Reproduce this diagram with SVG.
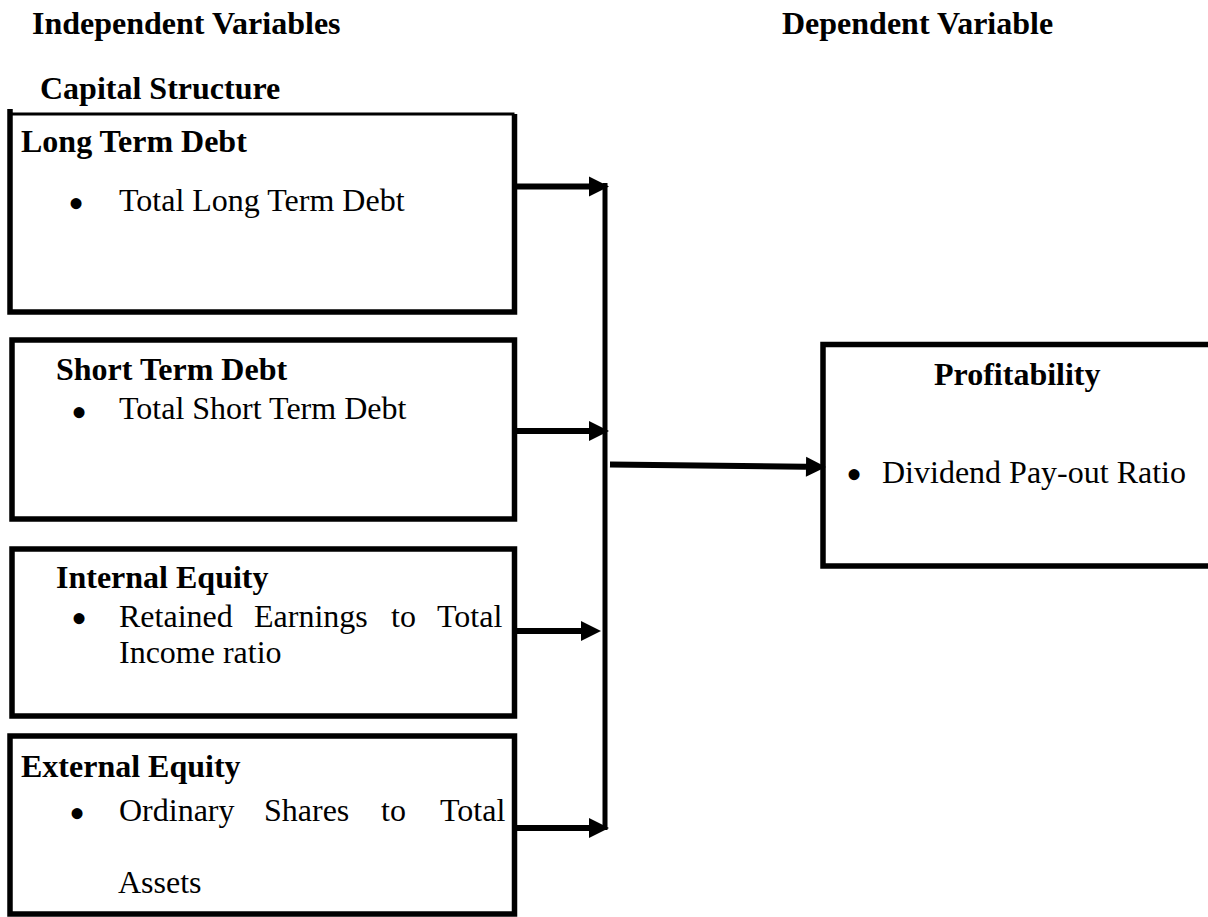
<svg xmlns="http://www.w3.org/2000/svg" width="1208" height="917" viewBox="0 0 1208 917">
  <style>
    .bg { fill: #ffffff; }
    .box { fill: none; stroke: #000; stroke-width: 5.5; }
    .h { font-family: "Liberation Serif", "Times New Roman", serif; font-weight: bold; font-size: 32px; fill: #000; }
    .t { font-family: "Liberation Serif", "Times New Roman", serif; font-size: 32px; fill: #000; }
    .b { font-family: "Liberation Serif", "Times New Roman", serif; font-size: 46px; fill: #000; text-anchor: middle; }
    .conn { stroke: #000; stroke-width: 6; fill: none; }
    .vline { stroke: #000; stroke-width: 5; fill: none; }
  </style>
  <defs>
    <marker id="arrow" markerUnits="userSpaceOnUse" markerWidth="21" markerHeight="20" refX="0" refY="10" orient="auto" overflow="visible">
      <path d="M0,0 L20,10 L0,20 Z" fill="#000"/>
    </marker>
  </defs>
  <rect class="bg" x="0" y="0" width="1208" height="917"/>

  <g id="headings">
    <text class="h" x="32" y="34">Independent Variables</text>
    <text class="h" x="782" y="34">Dependent Variable</text>
    <text class="h" x="40" y="99">Capital Structure</text>
  </g>

  <g id="node-long-term-debt">
    <path d="M10,109 L10,312 L514.5,312 L514.5,114" class="box"/>
    <path d="M10,114 L514.5,114" stroke="#000" stroke-width="3" fill="none"/>
    <text class="h" x="21" y="152">Long Term Debt</text>
    <text class="b" x="76" y="219">•</text>
    <text class="t" x="119" y="211">Total Long Term Debt</text>
  </g>

  <g id="node-short-term-debt">
    <rect class="box" x="12" y="340" width="502.5" height="179"/>
    <text class="h" x="56" y="380">Short Term Debt</text>
    <text class="b" x="79" y="428">•</text>
    <text class="t" x="119" y="419">Total Short Term Debt</text>
  </g>

  <g id="node-internal-equity">
    <rect class="box" x="12" y="549" width="502.5" height="167"/>
    <text class="h" x="56" y="588">Internal Equity</text>
    <text class="b" x="79" y="634">•</text>
    <text class="t" y="627"><tspan x="119">Retained</tspan><tspan x="254">Earnings</tspan><tspan x="391">to</tspan><tspan x="437">Total</tspan></text>
    <text class="t" x="119" y="663">Income ratio</text>
  </g>

  <g id="node-external-equity">
    <rect class="box" x="10" y="736" width="504.5" height="178"/>
    <text class="h" x="21" y="777">External Equity</text>
    <text class="b" x="77" y="829">•</text>
    <text class="t" y="821"><tspan x="119">Ordinary</tspan><tspan x="264">Shares</tspan><tspan x="381">to</tspan><tspan x="440">Total</tspan></text>
    <text class="t" x="118" y="893">Assets</text>
  </g>

  <g id="node-profitability">
    <path d="M1214,344.5 L823,344.5 L823,566 L1214,566" class="box"/>
    <text class="h" x="934" y="385">Profitability</text>
    <text class="b" x="854" y="490">•</text>
    <text class="t" x="882" y="483">Dividend Pay-out Ratio</text>
  </g>

  <g id="connectors">
    <line class="vline" x1="605" y1="183" x2="605" y2="830"/>
    <line class="conn" x1="517" y1="186.5" x2="589" y2="186.5" marker-end="url(#arrow)"/>
    <line class="conn" x1="517" y1="431" x2="589" y2="431" marker-end="url(#arrow)"/>
    <line class="conn" x1="517" y1="631" x2="581" y2="631" marker-end="url(#arrow)"/>
    <line class="conn" x1="517" y1="828" x2="589" y2="828" marker-end="url(#arrow)"/>
    <line class="conn" x1="610" y1="464.5" x2="806" y2="466.7" marker-end="url(#arrow)"/>
  </g>
</svg>
